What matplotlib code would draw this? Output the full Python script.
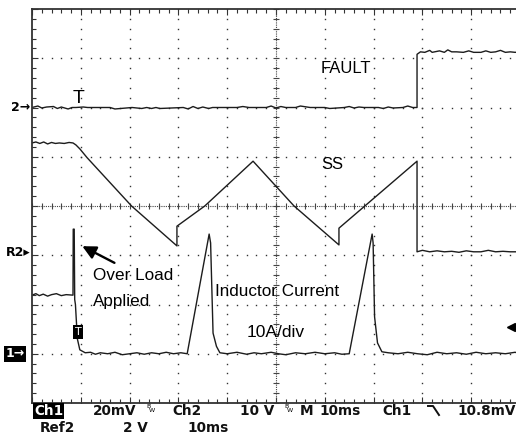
import matplotlib.pyplot as plt
from matplotlib.lines import Line2D

# time in ms (10 ms/div), vertical values in screen divisions
fault_t = [0, 1.2, 2.0, 3.0, 4.4, 5.2, 6.0, 7.4, 8.2, 9.0,
           10.5, 11.4, 13.0, 16.0, 17.0, 20.5, 22.5, 23.5, 24.5, 25.4,
           26.2, 31.0, 32.0, 33.0, 34.0, 35.0, 36.2, 37.0, 42.0, 43.2,
           44.5, 48.0, 49.0, 50.0, 51.0, 52.0, 54.0, 55.0, 57.0, 60.0,
           61.0, 64.0, 65.0, 66.0, 67.0, 68.0, 71.0, 72.0, 73.0, 74.0,
           76.0, 77.0, 78.0, 78.9,
           78.9, 79.6, 80.5, 81.5, 82.0, 83.5, 84.5, 85.2, 86.0, 87.0,
           88.4, 89.5, 90.5, 92.0, 93.0, 94.0, 95.0, 96.0, 97.0, 98.0, 99.0, 100]
fault_v = [2.0, 2.03, 1.99, 2.01, 2.02, 1.98, 2.01, 1.97, 2.0, 2.0,
           2.01, 2.0, 2.0, 2.0, 1.97, 2.0, 1.98, 2.0, 1.98, 2.0,
           1.98, 2.0, 1.97, 2.02, 1.98, 2.01, 1.98, 2.0, 2.0, 2.02,
           2.0, 2.0, 2.03, 1.99, 2.02, 2.0, 2.0, 2.03, 2.0, 2.0,
           1.98, 2.0, 2.02, 1.99, 2.01, 2.0, 2.0, 1.98, 2.01, 1.99,
           2.0, 2.03, 2.0, 2.0,
           3.08, 3.13, 3.12, 3.16, 3.12, 3.15, 3.12, 3.17, 3.13, 3.13,
           3.12, 3.15, 3.12, 3.12, 3.15, 3.12, 3.13, 3.16, 3.12, 3.13, 3.12, 3.13]

ss_t = [0, 0.8, 1.6, 2.4, 3.2, 4.0, 4.8, 5.6, 6.6, 7.6,
        8.4, 9.0, 9.8, 11.3, 20.4, 29.7, 29.7, 35.4, 45.3, 53.7,
        62.9, 62.9, 68.2, 78.9, 78.9, 80.0, 81.5, 83.0, 84.5, 86.0,
        87.5, 89.0, 90.5, 92.0, 93.5, 95.0, 96.5, 98.0, 100]
ss_v = [1.28, 1.30, 1.27, 1.30, 1.26, 1.29, 1.27, 1.28, 1.27, 1.29,
        1.28, 1.24, 1.16, 0.98, 0.0, -0.81, -0.41, 0.0, 0.91, 0.0,
        -0.79, -0.45, 0.0, 0.91, -0.93, -0.90, -0.93, -0.91, -0.93, -0.92,
        -0.94, -0.91, -0.93, -0.93, -0.90, -0.93, -0.92, -0.93, -0.93]

il_t = [0, 0.8, 1.5, 2.3, 3.2, 4.0, 5.0, 6.0, 7.0, 8.4,
        8.45, 8.65, 8.75, 8.9, 9.3, 9.8, 10.9,
        12.0, 13.0, 14.0, 15.5, 17.0, 18.5, 20.0, 21.5, 23.0, 24.5,
        26.0, 27.5, 29.0, 30.5, 31.8,
        36.3, 36.6, 37.1, 37.8, 38.5,
        40.0, 42.0, 44.0, 45.5, 47.0, 49.0, 50.5, 52.0, 54.0, 56.0,
        58.0, 60.0, 62.0, 63.5, 65.0,
        69.7, 69.9, 70.2, 70.8, 71.7,
        73.0, 75.0, 77.0, 79.0, 81.0, 83.0, 85.0, 87.0, 89.0, 91.0,
        93.0, 95.0, 97.0, 99.0, 100]
il_v = [-1.81, -1.78, -1.82, -1.79, -1.83, -1.80, -1.78, -1.82, -1.80, -1.81,
        -0.47, -0.47, -1.9, -2.0, -2.7, -2.92, -2.98,
        -2.97, -3.01, -2.98, -3.0, -2.97, -3.02, -3.0, -2.98, -3.01, -2.98,
        -3.0, -2.97, -3.0, -2.98, -3.0,
        -0.57, -0.75, -2.58, -2.85, -2.98,
        -3.0, -2.97, -3.01, -2.98, -3.0, -2.97, -3.0, -3.02, -2.98, -3.0,
        -2.97, -3.0, -2.98, -3.01, -3.0,
        -0.57, -0.75, -2.25, -2.78, -2.96,
        -2.98, -3.0, -2.97, -3.0, -3.02, -2.97, -3.0, -2.98, -3.01, -2.97,
        -3.0, -2.98, -3.0, -2.97, -3.0]

ch2_ref = 2.0      # "2" ground marker
ref2_ref = -0.95   # "R2" marker
ch1_ref = -3.0     # "1" marker
trig_level = -2.46

W, H = 516, 434
def fx(px):
    return px / W
def fy(py):
    return 1 - py / H

fig = plt.figure(figsize=(W / 100, H / 100), dpi=100)
ax = fig.add_axes([fx(32), fy(403), 488 / W, 394 / H])
ax.set_xlim(0, 100)
ax.set_ylim(-4, 4)

# graticule dots
yy = [-4 + 0.2 * k for k in range(41)]
xx = [2 * k for k in range(51)]
for i in range(1, 10):
    if i != 5:
        ax.plot([i * 10] * len(yy), yy, ls='none', marker='s', ms=1.0, mew=0, color='#333')
for j in range(-3, 4):
    if j != 0:
        ax.plot(xx, [j] * len(xx), ls='none', marker='s', ms=1.0, mew=0, color='#333')
# center cross with ticks
ax.axvline(50, ls=(0, (1, 1)), lw=0.8, color='#444')
ax.axhline(0, ls=(0, (1, 1)), lw=0.8, color='#444')
ax.plot(xx, [0] * len(xx), ls='none', marker='|', ms=4, mew=0.8, color='#444')
ax.plot([50] * len(yy), yy, ls='none', marker='_', ms=4, mew=0.8, color='#444')

for s in ['left', 'top', 'bottom']:
    ax.spines[s].set_linewidth(1.3)
    ax.spines[s].set_color('#333')
ax.spines['right'].set_visible(False)
ax.set_xticks(range(0, 101, 10))
ax.set_xticks(xx, minor=True)
ax.set_yticks(range(-4, 5))
ax.set_yticks(yy, minor=True)
ax.tick_params(which='both', direction='in', top=True, bottom=True, left=True, right=False,
               labelbottom=False, labelleft=False, color='#333', width=0.8)
ax.tick_params(which='major', length=4)
ax.tick_params(which='minor', length=3)

# traces
tc = '#1c1c1c'
ax.plot(fault_t, fault_v, color=tc, lw=1.0)
ax.plot(ss_t, ss_v, color=tc, lw=1.0)
ax.plot(il_t, il_v, color=tc, lw=1.0)

# labels on screen
lf = 'Liberation Sans'
ax.text(59.2, 2.80, 'FAULT', family=lf, fontsize=12, ha='left', va='center')
ax.text(59.2, 0.85, 'SS', family=lf, fontsize=12, ha='left', va='center')
ax.text(12.5, -1.42, 'Over Load', family=lf, fontsize=12.3, ha='left', va='center')
ax.text(12.5, -1.93, 'Applied', family=lf, fontsize=12.3, ha='left', va='center')
ax.text(37.5, -1.73, 'Inductor Current', family=lf, fontsize=12.3, ha='left', va='center')
ax.text(43.9, -2.56, '10A/div', family=lf, fontsize=12.5, ha='left', va='center')
ax.annotate('', xy=(9.8, -0.79), xytext=(17.4, -1.18),
            arrowprops=dict(arrowstyle='-|>,head_length=0.8,head_width=0.4', color='black', lw=1.7))

# trigger markers
ax.text(9.6, 2.01, 'T', family=lf, fontsize=14, ha='center', va='bottom')
ax.text(9.43, -2.56, 'T', fontsize=8, ha='center', va='center', color='white',
        bbox=dict(boxstyle='square,pad=0.15', fc='black', ec='none'))
ax.plot([98.2], [trig_level], marker='<', ms=6, color='black', clip_on=False)
ax.plot([98.2, 100], [trig_level, trig_level], color='black', lw=1.5, clip_on=False)

# channel markers on the left
mk = dict(fontsize=9, weight='bold', ha='right', va='center', clip_on=False)
ax.text(-0.4, ch2_ref, '2→', **mk)
ax.text(-0.4, ref2_ref, 'R2▸', **mk)
ax.text(-1.5, ch1_ref, '1→', color='white',
        bbox=dict(boxstyle='square,pad=0.1', fc='black', ec='none'), **mk)

# readout at the bottom
bf = dict(fontsize=9.8, weight='bold', va='center', ha='left', color='#111')
fig.text(fx(34), fy(411), 'Ch1', color='white',
         bbox=dict(boxstyle='square,pad=0.08', fc='black', ec='none'),
         fontsize=9.8, weight='bold', va='center', ha='left')
fig.text(fx(93), fy(411), '20mV', **bf)
fig.text(fx(172), fy(411), 'Ch2', **bf)
fig.text(fx(240), fy(411), '10 V', **bf)
fig.text(fx(300), fy(411), 'M', **bf)
fig.text(fx(319), fy(411), '10ms', **bf)
fig.text(fx(382), fy(411), 'Ch1', **bf)
fig.text(fx(457), fy(411), '10.8mV', **bf)
fig.text(fx(40), fy(428), 'Ref2', **bf)
fig.text(fx(123), fy(428), '2 V', **bf)
fig.text(fx(187), fy(428), '10ms', **bf)
for bx in [146, 284]:
    fig.text(fx(bx), fy(406), 'B', fontsize=4.5, ha='left', va='center')
    fig.text(fx(bx + 2.5), fy(410), 'W', fontsize=4.5, ha='left', va='center')
fig.add_artist(Line2D([fx(428), fx(433), fx(439)], [fy(406), fy(406), fy(415)],
                      color='#111', lw=1.4))

fig.savefig('out.png', dpi=100)
